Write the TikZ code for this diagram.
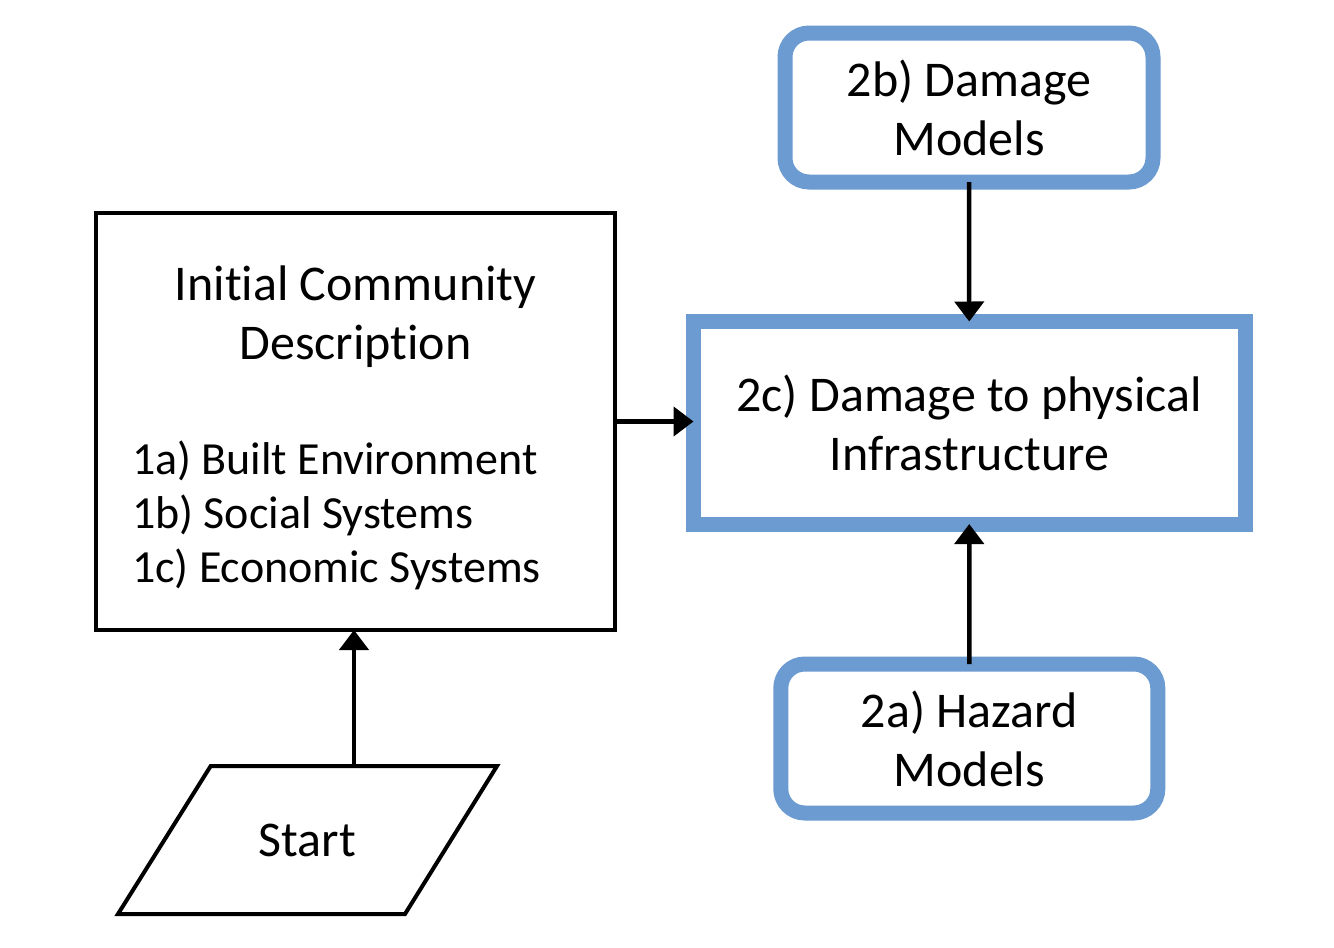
\documentclass[tikz,border=0pt]{standalone}
\usepackage{fontspec}
\setmainfont{Carlito}[Ligatures=NoCommon]
\usetikzlibrary{arrows.meta}
\definecolor{boxblue}{RGB}{108,155,209}
\newcommand\bigtxt{\fontsize{50pt}{59pt}\selectfont}
\newcommand\listtxt{\fontsize{46pt}{54pt}\selectfont}
\begin{document}
\begin{tikzpicture}[x=1pt,y=-1pt,
  bluebox/.style={draw=boxblue, line width=15pt, inner sep=0pt, outer sep=0pt, align=center, font=\bigtxt},
  blackbox/.style={draw=black, line width=4pt, inner sep=0pt, outer sep=0pt},
  txt/.style={inner sep=0pt, outer sep=0pt},
  blackline/.style={draw=black, line width=4pt, line join=miter},
  arr/.style={draw=black, line width=4.5pt, -{Triangle[length=20pt,width=29pt]}}]
\useasboundingbox[fill=white] (0,0) rectangle (1334,948);
% blue boxes
\node[bluebox, rounded corners=24pt, minimum width=368pt, minimum height=149pt] (b2) at (969,107.5) {2b) Damage\\Models};
\node[bluebox, minimum width=551.5pt, minimum height=202.5pt] (c2) at (969.25,422.75) {2c) Damage to physical\\Infrastructure};
\node[bluebox, rounded corners=24pt, minimum width=377pt, minimum height=149pt] (a2) at (969.3,738.5) {2a) Hazard\\Models};
% initial community box
\node[blackbox, minimum width=519pt, minimum height=417pt] (init) at (355.5,421.5) {};
\node[txt, font=\bigtxt, align=center] (title) at (355.5,316.5) {Initial Community\\Description};
\node[txt, font=\listtxt, align=left, anchor=west] (list) at (132,515.7) {1a) Built Environment\\1b) Social Systems\\1c) Economic Systems};
% start parallelogram
\draw[blackline] (118,914) -- (210.7,766) -- (497,766) -- (405,914) -- cycle;
\coordinate (startTop) at (354,766);
\node[txt, font=\bigtxt] (start) at (307.5,840) {Start};
% connectors
\draw[arr] (b2.south) -- (c2.north);
\draw[arr] (a2.north) -- (c2.south);
\draw[arr] (init.east) -- (init.east -| c2.west);
\draw[arr] (startTop) -- (startTop |- init.south);
\end{tikzpicture}
\end{document}
